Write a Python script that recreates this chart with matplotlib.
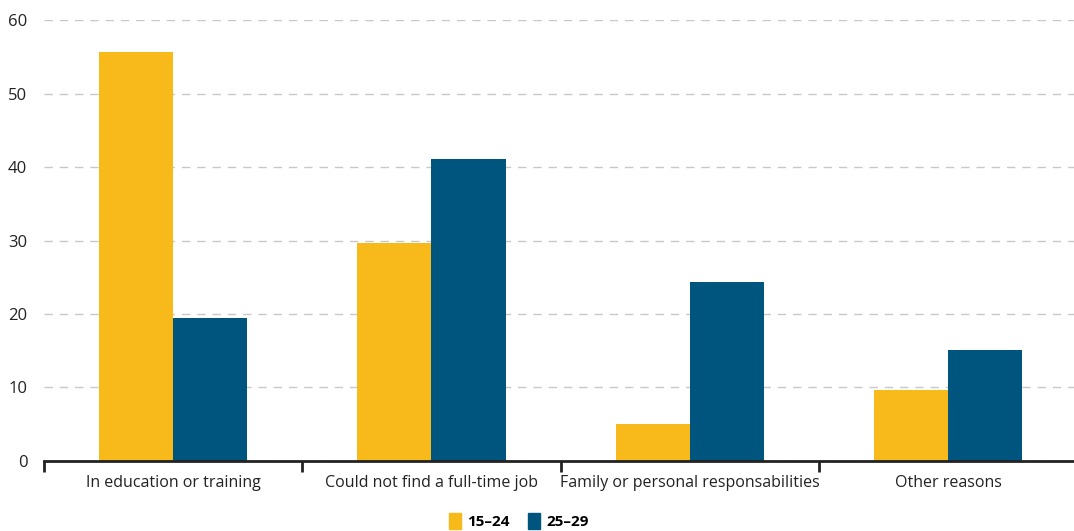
import numpy as np
import matplotlib.pyplot as plt
from matplotlib.patches import Patch

categories = ['In education or training', 'Could not find a full-time job',
              'Family or personal responsabilities', 'Other reasons']
age_15_24 = [55.7, 29.6, 5.0, 9.6]
age_25_29 = [19.5, 41.1, 24.4, 15.1]
series_labels = ['15\u201324', '25\u201329']

yellow = '#F8BA1A'
blue = '#00557F'

plt.rcParams['font.family'] = ['Open Sans', 'DejaVu Sans']

fig = plt.figure(figsize=(10.74, 5.31), dpi=100)
ax = fig.add_axes([0.041, 0.132, 0.962, 0.830])

x = np.arange(len(categories))
w = 0.287
ax.bar(x - w / 2, age_15_24, width=w, color=yellow, zorder=3)
ax.bar(x + w / 2, age_25_29, width=w, color=blue, zorder=3)

ax.set_xlim(-0.5, 3.5)
ax.set_ylim(0, 60)
ax.set_yticks(range(0, 61, 10))
ax.yaxis.grid(True, color='#c8c8c8', linestyle=(0, (6, 5)), linewidth=1, zorder=0)
ax.tick_params(axis='y', length=0, labelsize=12, pad=12, colors='#222222')

# category separators as ticks on the x axis
ax.set_xticks(np.arange(-0.5, 3.6, 1.0))
ax.set_xticklabels([])
ax.tick_params(axis='x', length=8, width=2, color='#222222')
for xi, cat in zip(x, categories):
    ax.text(xi, -3.0, cat, ha='center', va='center', fontsize=11.5, color='#222222')

for side in ['top', 'right', 'left']:
    ax.spines[side].set_visible(False)
ax.spines['bottom'].set_linewidth(2)
ax.spines['bottom'].set_color('#222222')
ax.spines['bottom'].set_zorder(4)

handles = [Patch(color=yellow), Patch(color=blue)]
fig.legend(handles, series_labels, loc='center', bbox_to_anchor=(0.483, 0.018),
           ncol=2, frameon=False, handlelength=0.8, handleheight=1.2,
           handletextpad=0.4, columnspacing=1.2,
           prop={'weight': 'bold', 'size': 11})

fig.savefig('out.png', dpi=100)
